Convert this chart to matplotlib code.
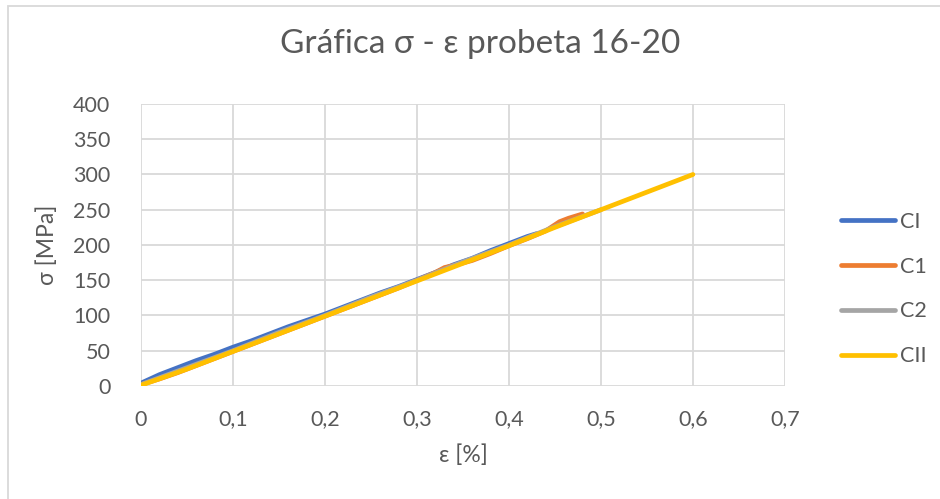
import matplotlib
matplotlib.use("Agg")
import matplotlib.pyplot as plt
from matplotlib.patches import Rectangle

plt.rcParams["font.family"] = ["Lato", "DejaVu Sans"]

# strain [%] and stress [MPa] per specimen
ci_eps = [0.0, 0.01, 0.02, 0.04, 0.06, 0.08, 0.10, 0.12, 0.14, 0.16, 0.18, 0.20,
          0.22, 0.24, 0.26, 0.28, 0.30, 0.32, 0.34, 0.36, 0.38, 0.40, 0.42, 0.43]
ci_sig = [4, 10, 16, 26, 36, 45, 55, 64, 74, 84, 93, 102,
          112, 122, 132, 141, 151, 161, 172, 181, 192, 202, 212, 216]

c1_eps = [0.0, 0.02, 0.04, 0.06, 0.08, 0.10, 0.12, 0.14, 0.16, 0.18, 0.20, 0.22,
          0.24, 0.26, 0.28, 0.30, 0.32, 0.33, 0.34, 0.36, 0.38, 0.40, 0.42, 0.44,
          0.455, 0.465, 0.475, 0.48]
c1_sig = [2, 10, 19, 29, 39, 49, 59, 69, 79, 89, 99, 109,
          119, 129, 139, 150, 161, 168, 171, 178, 188, 199, 209, 220,
          233, 238, 242, 244]

c2_eps = [0.0, 0.05, 0.10, 0.15, 0.20, 0.25, 0.30, 0.35, 0.40, 0.45, 0.50]
c2_sig = [2, 26, 50, 76, 100, 126, 150, 176, 200, 226, 250]

cii_eps = [0.0, 0.05, 0.10, 0.15, 0.20, 0.25, 0.30, 0.35, 0.40, 0.45, 0.50, 0.55, 0.60]
cii_sig = [1, 24, 49, 74, 99, 124, 149, 174, 199, 225, 250, 275, 300]

series = [
    ("CI", ci_eps, ci_sig, "#4472C4"),
    ("C1", c1_eps, c1_sig, "#ED7D31"),
    ("C2", c2_eps, c2_sig, "#A5A5A5"),
    ("CII", cii_eps, cii_sig, "#FFC000"),
]

text_col = "#595959"
grid_col = "#D9D9D9"

fig = plt.figure(figsize=(9.4, 4.99), dpi=100)
fig.patches.append(Rectangle((8 / 940, -0.1), 1.2, 1 - 6 / 499 + 0.1,
                             transform=fig.transFigure, fill=False,
                             edgecolor=grid_col, linewidth=1.3))
ax = fig.add_axes([0.15, 0.2265, 0.685, 0.5651])

for name, x, y, col in series:
    ax.plot(x, y, color=col, lw=3.4, label=name, solid_capstyle="round")

ax.set_xlim(0, 0.7)
ax.set_ylim(0, 400)
ax.set_xticks([0, 0.1, 0.2, 0.3, 0.4, 0.5, 0.6, 0.7])
ax.set_xticklabels(["0", "0,1", "0,2", "0,3", "0,4", "0,5", "0,6", "0,7"])
ax.set_yticks(range(0, 401, 50))
ax.grid(True, color=grid_col, lw=1.3)
ax.set_axisbelow(True)
for s in ax.spines.values():
    s.set_visible(False)
ax.tick_params(length=0, labelsize=15.5, colors=text_col)
ax.tick_params(axis="y", pad=22)
ax.tick_params(axis="x", pad=17)

ax.set_xlabel("ε [%]", fontsize=16.5, color=text_col, labelpad=11)
ax.set_ylabel("σ [MPa]", fontsize=16.5, color=text_col, labelpad=11)
fig.text(480 / 940, 1 - 44 / 499, "Gráfica σ - ε probeta 16-20", fontsize=24,
         color=text_col, ha="center", va="center")

ax.legend(loc="center left", bbox_to_anchor=(841 / 940, 1 - 289 / 499),
          bbox_transform=fig.transFigure, frameon=False, borderpad=0,
          borderaxespad=0, fontsize=15.5, labelcolor=text_col, handlelength=2.5,
          labelspacing=1.15, handletextpad=0.25)

fig.savefig("out.png", dpi=100)
